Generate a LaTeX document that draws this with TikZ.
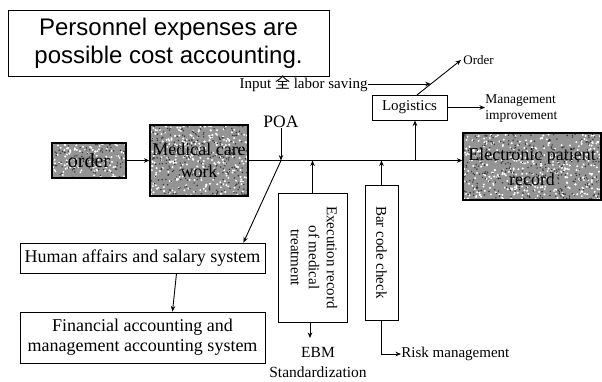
\documentclass[tikz,border=0pt]{standalone}
\usepackage{fontspec}
\setmainfont{Liberation Serif}
\newfontfamily\titlefont{Liberation Sans}
\newfontfamily\cjk{Noto Sans CJK SC}
\usetikzlibrary{arrows.meta,calc,backgrounds}

% grainy grey fill of a rectangle (x1,y1,x2,y2), with a given number of specks
\newcommand\grainfill[5]{%
  \fill[black!42] (#1,#2) rectangle (#3,#4);
  \foreach \k in {1,...,#5}{%
    \pgfmathsetmacro\gx{#1+(#3-#1)*rnd}%
    \pgfmathsetmacro\gy{#2+(#4-#2)*rnd}%
    \fill[white] (\gx,\gy) circle[radius=1.1pt];
  }%
  \foreach \k in {1,...,#5}{%
    \pgfmathsetmacro\gx{#1+(#3-#1)*rnd}%
    \pgfmathsetmacro\gy{#2+(#4-#2)*rnd}%
    \fill[black!80] (\gx,\gy) circle[radius=0.8pt];
  }%
}

\begin{document}
\begin{tikzpicture}[x=1pt,y=-1pt,line width=0.9pt,
  box/.style={draw,inner sep=0pt,align=center},
  noisy/.style={draw,line width=1.3pt,inner sep=0pt,align=center},
  lbl/.style={inner sep=0pt,align=center,font=\fontsize{15}{19}\selectfont},
  arr/.style={-{Stealth[length=5.5pt,width=4.5pt]}},
]
\useasboundingbox (0,0) rectangle (602,382);
\pgfmathsetseed{11}

% headline
\node[box,minimum width=321pt,minimum height=66pt,
      font=\titlefont\fontsize{24}{28}\selectfont] (title) at (168.5,43)
  {Personnel expenses are\\possible cost accounting.};

% grainy source/target boxes
\node[noisy,minimum width=74pt,minimum height=35pt,
      font=\fontsize{20}{22}\selectfont] (order) at (89,160.5) {order};
\node[noisy,minimum width=98pt,minimum height=71pt,
      font=\fontsize{18}{22}\selectfont] (med) at (199,160.5) {Medical care\\work};
\node[noisy,minimum width=138pt,minimum height=67pt,
      font=\fontsize{18}{25}\selectfont] (epr) at (532,166.5) {Electronic patient\\record};

\begin{scope}[on background layer]
  \grainfill{52}{143}{126}{178}{110}
  \grainfill{150}{125}{248}{196}{280}
  \grainfill{463}{133}{601}{200}{370}
\end{scope}

% plain boxes
\node[box,minimum width=245pt,minimum height=30pt,
      font=\fontsize{18}{20}\selectfont] (hum) at (142.5,258)
  {Human affairs and salary system};
\node[box,minimum width=245pt,minimum height=51pt,
      font=\fontsize{18}{20}\selectfont] (fin) at (142.5,337.5)
  {Financial accounting and\\management accounting system};
\node[box,minimum width=69pt,minimum height=129pt,
      font=\fontsize{15}{18}\selectfont] (exe) at (312.5,257.5)
  {\rotatebox{-90}{\begin{tabular}{@{}c@{}}Execution record\\of medical\\treatment\end{tabular}}};
\node[box,minimum width=33pt,minimum height=135pt,
      font=\fontsize{15}{18}\selectfont] (bar) at (381.5,252.5)
  {\rotatebox{-90}{Bar code check}};
\node[box,minimum width=75pt,minimum height=25pt,
      font=\fontsize{15}{18}\selectfont] (log) at (409.5,107.5) {Logistics};

% free labels
\node[lbl,font=\fontsize{17.5}{20}\selectfont] (poa) at (281,122) {POA};
\node[lbl,anchor=east] (inp) at (368,84) {Input {\cjk 全} labor saving};
\node[lbl,anchor=west,font=\fontsize{13}{16}\selectfont] (ord) at (463,60) {Order};
\node[lbl,anchor=west,align=left,font=\fontsize{13.5}{16}\selectfont] (mgmt) at (485,109)
  {Management\\improvement};
\node[lbl,font=\fontsize{15.5}{20}\selectfont] (ebm) at (318,362) {EBM\\Standardization};
\node[lbl,anchor=west] (risk) at (401,354) {Risk management};

% junctions on the main line
\coordinate (jpoa) at (poa.south |- med.east);
\coordinate (jlog) at (415,160.5);
\coordinate (jebm) at (310,338);
\coordinate (jrisk) at (bar.south |- risk.west);
\coordinate (logtop) at (417,95);
\coordinate (hit) at ($(logtop)!0.3!(ord.west)$);

% connectors
\draw[arr] (order) -- (med);
\draw[arr] (med.east) -- (med.east -| epr.west);
\draw[arr] (poa.south) -- (jpoa);
\draw[arr] (jpoa) -- ($(hum.north east)+(-22,0)$);
\draw[arr] ($(hum.south)+(34,0)$) -- ($(fin.north)+(30,0)$);
\draw[arr] (exe.north) -- (exe.north |- med.east);
\draw[arr] (bar.north) -- (bar.north |- med.east);
\draw[arr] (jlog) -- (jlog |- log.south);
\draw[arr] (exe.south -| jebm) -- (jebm);
\draw[arr] (bar.south) -- (jrisk) -- (risk.west);
\draw[arr] (log.east) -- (log.east -| mgmt.west);
\draw[arr] (logtop) -- ($(ord.west)+(-2,0)$);
\draw[arr] (inp.east) -- (inp.east -| hit);
\end{tikzpicture}
\end{document}
